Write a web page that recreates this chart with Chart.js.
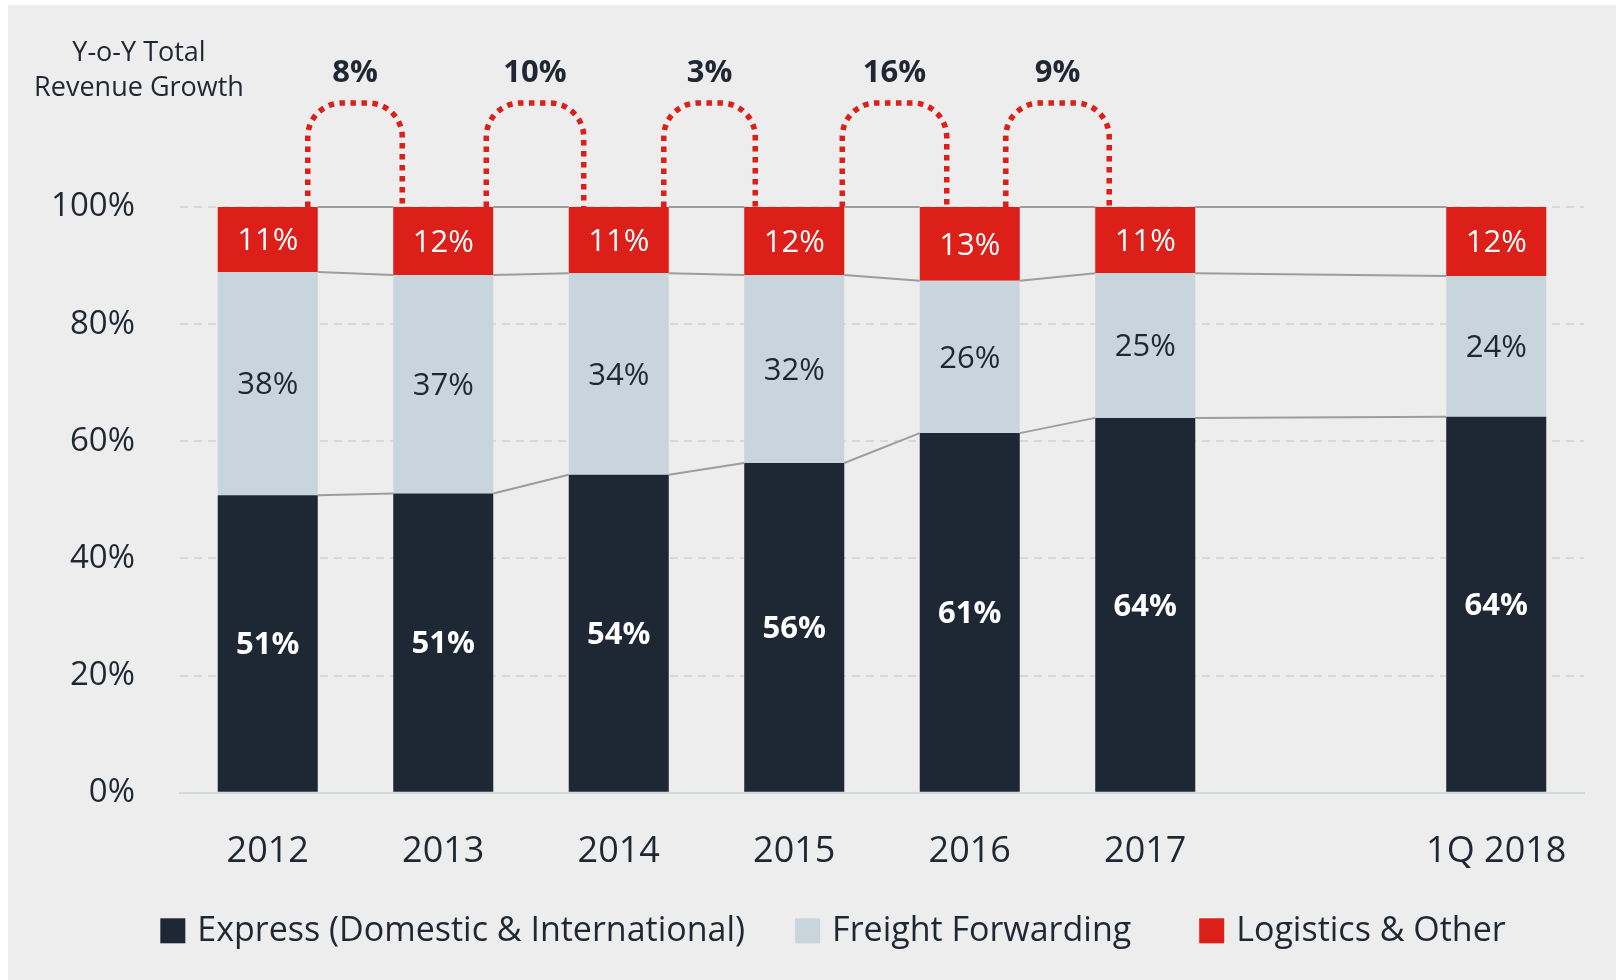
<!DOCTYPE html>
<html>
<head>
<meta charset="utf-8">
<script src="https://cdn.jsdelivr.net/npm/chart.js@4.4.1/dist/chart.umd.min.js"></script>
<style>
  html, body { margin: 0; padding: 0; background: #fff; }
  #wrap { position: absolute; left: 8px; top: 5px; width: 1608px; height: 975px; background: #ededed; }
</style>
</head>
<body>
<div id="wrap"><canvas id="chart" width="1608" height="975"></canvas></div>
<script>
// data
const categories = ['2012', '2013', '2014', '2015', '2016', '2017', '', '1Q 2018'];
const express   = [50.8, 51.1, 54.3, 56.3, 61.4, 64.0, null, 64.2];
const freight   = [38.1, 37.3, 34.4, 32.1, 26.0, 24.7, null, 24.0];
const logistics = [11.1, 11.6, 11.3, 11.6, 12.6, 11.3, null, 11.8];
const growth    = ['8%', '10%', '3%', '16%', '9%'];
const yTicks    = [0, 20, 40, 60, 80, 100];

const txt = '#1e2733';
const font = "'Open Sans', 'Noto Sans', sans-serif";
Chart.defaults.font.family = font;
Chart.defaults.color = txt;

// title at the top left
const cornerTitle = {
    id: 'cornerTitle',
    afterDraw(chart) {
        const ctx = chart.ctx;
        ctx.save();
        ctx.fillStyle = txt;
        ctx.font = `27px ${font}`;
        ctx.textAlign = 'center';
        ctx.textBaseline = 'middle';
        ctx.fillText('Y-o-Y Total', 131, 48);
        ctx.fillText('Revenue Growth', 131, 83);
        ctx.restore();
    }
};

// legend drawn by hand so the spacing can follow the original
const legendGaps = [50, 68];
const bottomLegend = {
    id: 'bottomLegend',
    afterDraw(chart) {
        const ctx = chart.ctx;
        const box = 25, gapText = 12;
        const cx = 825, cy = chart.chartArea.bottom + 138;
        ctx.save();
        ctx.font = `34px ${font}`;
        ctx.textBaseline = 'middle';
        ctx.textAlign = 'left';
        const items = chart.data.datasets.map(ds => ({ label: ds.label, color: ds.backgroundColor, w: ctx.measureText(ds.label).width }));
        const total = items.reduce((s, it) => s + box + gapText + it.w, 0) + legendGaps.reduce((s, g) => s + g, 0);
        let x = cx - total / 2;
        items.forEach((it, i) => {
            ctx.fillStyle = it.color;
            ctx.fillRect(x, cy - box / 2, box, box);
            x += box + gapText;
            ctx.fillStyle = txt;
            ctx.fillText(it.label, x, cy + 1);
            x += it.w + (legendGaps[i] || 0);
        });
        ctx.restore();
    }
};

// red dotted arches with growth numbers
const archInL = [10, 7, 5, 2, 14];
const archInR = [9, 15, 11, 27, 14];
const arches = {
    id: 'arches',
    beforeDatasetsDraw(chart) {
        const ctx = chart.ctx;
        const meta = chart.getDatasetMeta(0);
        const yBase = chart.scales.y.getPixelForValue(100);
        const top = chart.chartArea.top - 104;
        ctx.save();
        for (let k = 0; k < growth.length; k++) {
            const a = meta.data[k], b = meta.data[k + 1];
            const x1 = a.x + a.width / 2 - archInL[k];
            const x2 = b.x - b.width / 2 + archInR[k];
            const r = Math.min(34, (x2 - x1) / 2);
            ctx.beginPath();
            ctx.moveTo(x1, yBase);
            ctx.lineTo(x1, top + r);
            ctx.arcTo(x1, top, x1 + r, top, r);
            ctx.lineTo(x2 - r, top);
            ctx.arcTo(x2, top, x2, top + r, r);
            ctx.lineTo(x2, yBase);
            ctx.strokeStyle = '#dc1f18';
            ctx.lineWidth = 5.5;
            ctx.setLineDash([5.5, 5.5]);
            ctx.stroke();

            ctx.setLineDash([]);
            ctx.fillStyle = txt;
            ctx.font = `bold 31px ${font}`;
            ctx.textAlign = 'center';
            ctx.textBaseline = 'middle';
            ctx.fillText(growth[k], (x1 + x2) / 2, top - 30);
        }
        ctx.restore();
    }
};

// thin grey lines joining the segment tops
const connectors = {
    id: 'connectors',
    afterDatasetsDraw(chart) {
        const ctx = chart.ctx;
        const ys = chart.scales.y;
        const meta = chart.getDatasetMeta(0);
        const idx = express.map((v, i) => v == null ? -1 : i).filter(i => i >= 0);
        const level = (i, n) => [express[i], express[i] + freight[i], express[i] + freight[i] + logistics[i]][n];
        ctx.save();
        ctx.strokeStyle = '#9d9d9d';
        ctx.lineWidth = 2;
        for (let k = 0; k < idx.length - 1; k++) {
            const a = idx[k], b = idx[k + 1];
            const xa = meta.data[a].x + meta.data[a].width / 2;
            const xb = meta.data[b].x - meta.data[b].width / 2;
            for (let n = 0; n < 3; n++) {
                ctx.beginPath();
                ctx.moveTo(xa, ys.getPixelForValue(level(a, n)));
                ctx.lineTo(xb, ys.getPixelForValue(level(b, n)));
                ctx.stroke();
            }
        }
        ctx.restore();
    }
};

// value labels inside the segments
const barLabels = {
    id: 'barLabels',
    afterDatasetsDraw(chart) {
        const ctx = chart.ctx;
        const styles = [
            { color: '#ffffff', weight: 'bold' },
            { color: txt, weight: 'normal' },
            { color: '#ffffff', weight: 'normal' }
        ];
        ctx.save();
        ctx.textAlign = 'center';
        ctx.textBaseline = 'middle';
        chart.data.datasets.forEach((ds, di) => {
            const meta = chart.getDatasetMeta(di);
            meta.data.forEach((bar, i) => {
                const v = ds.data[i];
                if (v == null) return;
                ctx.fillStyle = styles[di].color;
                ctx.font = `${styles[di].weight} 31px ${font}`;
                ctx.fillText(Math.round(v) + '%', bar.x, (bar.y + bar.base) / 2 + 2);
            });
        });
        ctx.restore();
    }
};

new Chart(document.getElementById('chart'), {
    type: 'bar',
    data: {
        labels: categories,
        datasets: [
            { label: 'Express (Domestic & International)', data: express, backgroundColor: '#1e2734' },
            { label: 'Freight Forwarding', data: freight, backgroundColor: '#c9d5dc' },
            { label: 'Logistics & Other', data: logistics, backgroundColor: '#dc1f18' }
        ]
    },
    options: {
        responsive: false,
        animation: false,
        barPercentage: 0.57,
        categoryPercentage: 1,
        layout: { padding: { top: 202, right: 32, bottom: 70, left: 0 } },
        plugins: {
            legend: { display: false },
            tooltip: { enabled: false }
        },
        scales: {
            x: {
                stacked: true,
                grid: { display: false, drawTicks: false },
                border: { color: '#cfd9e0', width: 2 },
                ticks: { color: txt, font: { size: 36 }, padding: 37, autoSkip: false, maxRotation: 0 }
            },
            y: {
                stacked: true,
                min: 0,
                max: 100,
                afterBuildTicks(s) { s.ticks = yTicks.map(v => ({ value: v })); },
                afterFit(s) { s.width = 172; },
                grid: {
                    drawTicks: false,
                    lineWidth: 2,
                    color: c => c.tick && c.tick.value === 0 ? 'rgba(0,0,0,0)' : '#d8d8d8'
                },
                border: { display: false, dash: [8, 6] },
                ticks: { color: txt, font: { size: 33 }, padding: 45, callback: v => v + '%' }
            }
        }
    },
    plugins: [cornerTitle, arches, connectors, barLabels, bottomLegend]
});
</script>
</body>
</html>
